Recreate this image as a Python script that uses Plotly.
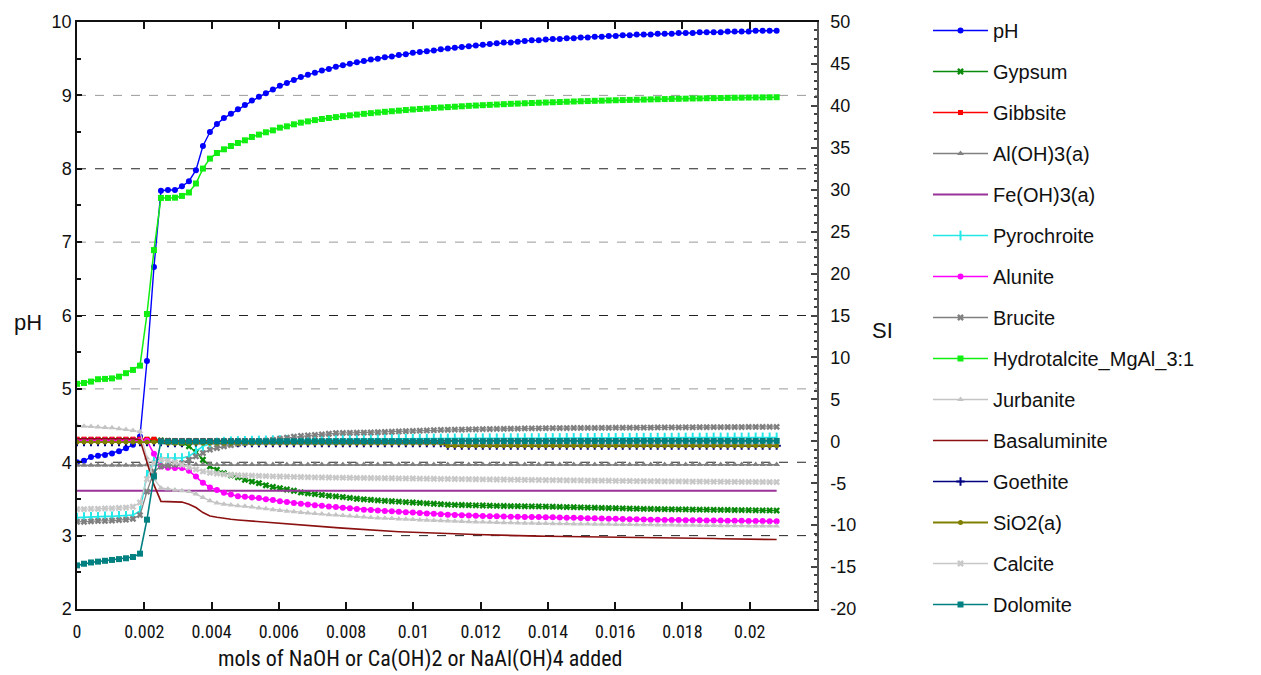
import plotly.graph_objects as go

# ---------------- data ----------------
STEP = 0.000208
N_POINTS = 101
X = [round(i * STEP, 6) for i in range(N_POINTS)]

X_TICKS = [0, 0.002, 0.004, 0.006, 0.008, 0.01, 0.012, 0.014, 0.016, 0.018, 0.02]
X_TICK_TEXT = ["0", "0.002", "0.004", "0.006", "0.008", "0.01", "0.012", "0.014", "0.016", "0.018", "0.02"]
PH_TICKS = [2, 3, 4, 5, 6, 7, 8, 9, 10]
SI_TICKS = [-20, -15, -10, -5, 0, 5, 10, 15, 20, 25, 30, 35, 40, 45, 50]
SI_TICK_TEXT = ["-20", "-15", "-10", "-5", "0", "5", "10", "15", "20", "25", "30", "35", "40", "45", "50"]
GRID_GRAY = [5, 7, 9]
GRID_BLACK = [3, 4, 6, 8]

PH = [
    4.00, 4.02, 4.07, 4.09, 4.10, 4.12, 4.15, 4.19, 4.24, 4.35,
    5.38, 6.66, 7.70, 7.71, 7.71, 7.76, 7.83, 7.98, 8.31, 8.50,
    8.61, 8.69, 8.75, 8.81, 8.87, 8.93, 8.98, 9.03, 9.08, 9.13,
    9.17, 9.21, 9.25, 9.28, 9.31, 9.34, 9.36, 9.39, 9.41, 9.43,
    9.45, 9.47, 9.49, 9.50, 9.52, 9.53, 9.55, 9.56, 9.58, 9.59,
    9.60, 9.61, 9.63, 9.64, 9.65, 9.66, 9.67, 9.68, 9.69, 9.70,
    9.71, 9.72, 9.72, 9.73, 9.74, 9.75, 9.75, 9.76, 9.77, 9.77,
    9.78, 9.78, 9.79, 9.79, 9.80, 9.80, 9.81, 9.81, 9.82, 9.82,
    9.83, 9.83, 9.83, 9.84, 9.84, 9.84, 9.85, 9.85, 9.85, 9.86,
    9.86, 9.86, 9.86, 9.87, 9.87, 9.87, 9.87, 9.88, 9.88, 9.88,
    9.88]

GYPSUM = [
    0.15, 0.15, 0.15, 0.15, 0.15, 0.15, 0.15, 0.15, 0.15, 0.15,
    0.15, 0.15, 0.12, 0.05, -0.10, -0.20, -0.60, -1.30, -2.20, -3.00,
    -3.40, -3.80, -4.05, -4.30, -4.60, -4.80, -5.00, -5.25, -5.45, -5.60,
    -5.75, -5.90, -6.10, -6.20, -6.30, -6.40, -6.50, -6.57, -6.65, -6.75,
    -6.85, -6.92, -6.98, -7.05, -7.10, -7.15, -7.20, -7.25, -7.30, -7.35,
    -7.40, -7.45, -7.50, -7.55, -7.58, -7.60, -7.62, -7.64, -7.66, -7.68,
    -7.70, -7.72, -7.73, -7.74, -7.75, -7.76, -7.77, -7.78, -7.80, -7.82,
    -7.84, -7.86, -7.88, -7.90, -7.92, -7.94, -7.96, -7.98, -8.00, -8.02,
    -8.04, -8.06, -8.07, -8.08, -8.10, -8.11, -8.12, -8.13, -8.14, -8.15,
    -8.16, -8.17, -8.18, -8.19, -8.20, -8.21, -8.22, -8.23, -8.24, -8.25,
    -8.26]

GIBBSITE = [
    0.25, 0.25, 0.25, 0.25, 0.25, 0.25, 0.25, 0.25, 0.25, 0.25,
    0.25, 0.25, 0.10, 0.10, 0.10, 0.10, 0.10, 0.10, 0.10, 0.10,
    0.10, 0.10, 0.10, 0.10, 0.10, 0.10, 0.10, 0.10, 0.10, 0.10,
    0.10, 0.10, 0.10, 0.10, 0.10, 0.10, 0.10, 0.10, 0.10, 0.10,
    0.10, 0.10, 0.10, 0.10, 0.10, 0.10, 0.10, 0.10, 0.10, 0.10,
    0.10, 0.10, 0.10, 0.10, 0.10, 0.10, 0.10, 0.10, 0.10, 0.10,
    0.10, 0.10, 0.10, 0.10, 0.10, 0.10, 0.10, 0.10, 0.10, 0.10,
    0.10, 0.10, 0.10, 0.10, 0.10, 0.10, 0.10, 0.10, 0.10, 0.10,
    0.10, 0.10, 0.10, 0.10, 0.10, 0.10, 0.10, 0.10, 0.10, 0.10,
    0.10, 0.10, 0.10, 0.10, 0.10, 0.10, 0.10, 0.10, 0.10, 0.10,
    0.10]

AL_OH3_A = [
    -2.85, -2.85, -2.85, -2.85, -2.85, -2.85, -2.85, -2.85, -2.85, -2.85,
    -2.80, -2.78, -2.78, -2.78, -2.78, -2.78, -2.78, -2.78, -2.78, -2.78,
    -2.78, -2.78, -2.78, -2.78, -2.78, -2.78, -2.78, -2.78, -2.78, -2.78,
    -2.78, -2.78, -2.78, -2.78, -2.78, -2.78, -2.78, -2.78, -2.78, -2.78,
    -2.78, -2.78, -2.78, -2.78, -2.78, -2.78, -2.78, -2.78, -2.78, -2.78,
    -2.78, -2.78, -2.78, -2.78, -2.78, -2.78, -2.78, -2.78, -2.78, -2.78,
    -2.78, -2.78, -2.78, -2.78, -2.78, -2.78, -2.78, -2.78, -2.78, -2.78,
    -2.78, -2.78, -2.78, -2.78, -2.78, -2.78, -2.78, -2.78, -2.78, -2.78,
    -2.78, -2.78, -2.78, -2.78, -2.78, -2.78, -2.78, -2.78, -2.78, -2.78,
    -2.78, -2.78, -2.78, -2.78, -2.78, -2.78, -2.78, -2.78, -2.78, -2.78,
    -2.78]

FE_OH3_A = [
    -5.90, -5.90, -5.90, -5.90, -5.90, -5.90, -5.90, -5.90, -5.90, -5.90,
    -5.90, -5.90, -5.90, -5.90, -5.90, -5.90, -5.90, -5.90, -5.90, -5.90,
    -5.90, -5.90, -5.90, -5.90, -5.90, -5.90, -5.90, -5.90, -5.90, -5.90,
    -5.90, -5.90, -5.90, -5.90, -5.90, -5.90, -5.90, -5.90, -5.90, -5.90,
    -5.90, -5.90, -5.90, -5.90, -5.90, -5.90, -5.90, -5.90, -5.90, -5.90,
    -5.90, -5.90, -5.90, -5.90, -5.90, -5.90, -5.90, -5.90, -5.90, -5.90,
    -5.90, -5.90, -5.90, -5.90, -5.90, -5.90, -5.90, -5.90, -5.90, -5.90,
    -5.90, -5.90, -5.90, -5.90, -5.90, -5.90, -5.90, -5.90, -5.90, -5.90,
    -5.90, -5.90, -5.90, -5.90, -5.90, -5.90, -5.90, -5.90, -5.90, -5.90,
    -5.90, -5.90, -5.90, -5.90, -5.90, -5.90, -5.90, -5.90, -5.90, -5.90,
    -5.90]

PYROCHROITE = [
    -9.10, -9.05, -9.00, -9.00, -8.95, -8.95, -8.90, -8.90, -8.80, -8.30,
    -4.00, -2.40, -2.00, -2.00, -2.00, -2.00, -1.80, -1.20, -0.60, -0.30,
    -0.15, -0.05, 0.00, 0.03, 0.05, 0.07, 0.09, 0.11, 0.13, 0.15,
    0.17, 0.18, 0.19, 0.20, 0.21, 0.22, 0.23, 0.24, 0.25, 0.26,
    0.27, 0.28, 0.28, 0.29, 0.29, 0.30, 0.30, 0.31, 0.31, 0.32,
    0.32, 0.33, 0.33, 0.34, 0.34, 0.35, 0.35, 0.35, 0.36, 0.36,
    0.36, 0.37, 0.37, 0.37, 0.38, 0.38, 0.38, 0.39, 0.39, 0.39,
    0.40, 0.40, 0.40, 0.40, 0.41, 0.41, 0.41, 0.41, 0.42, 0.42,
    0.42, 0.42, 0.43, 0.43, 0.43, 0.43, 0.44, 0.44, 0.44, 0.44,
    0.44, 0.45, 0.45, 0.45, 0.45, 0.45, 0.46, 0.46, 0.46, 0.46,
    0.46]

ALUNITE = [
    0.10, 0.10, 0.10, 0.10, 0.10, 0.10, 0.10, 0.10, 0.10, 0.10,
    0.05, -1.50, -3.00, -3.15, -3.20, -3.20, -3.50, -4.20, -4.95, -5.50,
    -5.80, -6.15, -6.35, -6.55, -6.62, -6.70, -6.76, -6.90, -7.00, -7.15,
    -7.25, -7.35, -7.45, -7.55, -7.62, -7.70, -7.78, -7.85, -7.92, -8.00,
    -8.08, -8.15, -8.20, -8.25, -8.30, -8.35, -8.40, -8.45, -8.50, -8.55,
    -8.60, -8.65, -8.70, -8.75, -8.78, -8.81, -8.84, -8.87, -8.90, -8.93,
    -8.95, -8.97, -8.99, -9.01, -9.02, -9.03, -9.04, -9.05, -9.07, -9.09,
    -9.11, -9.13, -9.15, -9.17, -9.19, -9.21, -9.23, -9.25, -9.27, -9.29,
    -9.31, -9.33, -9.35, -9.37, -9.38, -9.39, -9.40, -9.41, -9.42, -9.43,
    -9.44, -9.45, -9.46, -9.47, -9.48, -9.49, -9.50, -9.51, -9.52, -9.53,
    -9.55]

BRUCITE = [
    -9.60, -9.60, -9.55, -9.50, -9.50, -9.45, -9.40, -9.35, -9.25, -8.80,
    -6.00, -3.60, -3.00, -2.90, -2.80, -2.60, -2.20, -1.80, -1.40, -1.00,
    -0.80, -0.60, -0.45, -0.30, -0.20, -0.10, 0.00, 0.08, 0.18, 0.30,
    0.42, 0.54, 0.65, 0.71, 0.77, 0.83, 0.90, 0.98, 1.00, 1.01,
    1.02, 1.04, 1.05, 1.08, 1.11, 1.14, 1.17, 1.20, 1.23, 1.26,
    1.29, 1.32, 1.35, 1.37, 1.39, 1.40, 1.42, 1.43, 1.45, 1.46,
    1.48, 1.49, 1.50, 1.51, 1.53, 1.54, 1.55, 1.56, 1.57, 1.58,
    1.58, 1.59, 1.59, 1.60, 1.60, 1.61, 1.61, 1.62, 1.62, 1.63,
    1.63, 1.64, 1.64, 1.65, 1.65, 1.66, 1.66, 1.67, 1.67, 1.68,
    1.68, 1.69, 1.69, 1.70, 1.70, 1.70, 1.71, 1.71, 1.71, 1.72,
    1.72]

HYDROTALCITE = [
    6.85, 6.95, 7.12, 7.40, 7.44, 7.50, 7.71, 8.12, 8.51, 9.02,
    15.18, 22.80, 29.02, 29.02, 29.05, 29.26, 29.67, 30.74, 32.52, 33.71,
    34.38, 34.82, 35.21, 35.57, 35.89, 36.29, 36.57, 36.85, 37.08, 37.40,
    37.56, 37.80, 38.00, 38.15, 38.30, 38.43, 38.55, 38.66, 38.77, 38.87,
    38.96, 39.05, 39.13, 39.21, 39.29, 39.36, 39.43, 39.50, 39.57, 39.63,
    39.69, 39.75, 39.80, 39.85, 39.90, 39.95, 40.00, 40.04, 40.08, 40.12,
    40.16, 40.20, 40.24, 40.27, 40.31, 40.34, 40.37, 40.40, 40.43, 40.46,
    40.49, 40.52, 40.55, 40.57, 40.60, 40.62, 40.65, 40.67, 40.69, 40.71,
    40.73, 40.75, 40.77, 40.79, 40.81, 40.83, 40.84, 40.86, 40.88, 40.89,
    40.91, 40.92, 40.94, 40.95, 40.97, 40.98, 40.99, 41.00, 41.01, 41.02,
    41.03]

JURBANITE = [
    1.85, 1.80, 1.75, 1.70, 1.65, 1.60, 1.50, 1.40, 1.30, 1.17,
    -2.00, -4.50, -5.57, -5.70, -5.80, -5.90, -6.00, -6.30, -6.70, -7.10,
    -7.36, -7.50, -7.60, -7.70, -7.76, -7.85, -7.95, -8.05, -8.15, -8.25,
    -8.33, -8.40, -8.48, -8.55, -8.62, -8.68, -8.75, -8.80, -8.86, -8.92,
    -8.98, -9.04, -9.10, -9.14, -9.18, -9.22, -9.26, -9.30, -9.34, -9.38,
    -9.42, -9.45, -9.48, -9.51, -9.54, -9.57, -9.60, -9.62, -9.64, -9.66,
    -9.68, -9.70, -9.72, -9.74, -9.76, -9.78, -9.80, -9.81, -9.82, -9.83,
    -9.84, -9.85, -9.86, -9.87, -9.88, -9.89, -9.90, -9.91, -9.92, -9.93,
    -9.94, -9.95, -9.96, -9.97, -9.98, -9.99, -10.00, -10.01, -10.02, -10.03,
    -10.04, -10.05, -10.06, -10.07, -10.08, -10.08, -10.09, -10.09, -10.10, -10.10,
    -10.10]

BASALUMINITE = [
    0.30, 0.30, 0.30, 0.30, 0.30, 0.30, 0.30, 0.30, 0.30, 0.20,
    -2.40, -5.20, -7.17, -7.17, -7.20, -7.25, -7.50, -7.90, -8.50, -8.90,
    -9.05, -9.20, -9.30, -9.38, -9.45, -9.52, -9.60, -9.68, -9.74, -9.80,
    -9.86, -9.92, -10.00, -10.06, -10.12, -10.18, -10.24, -10.30, -10.36, -10.42,
    -10.48, -10.55, -10.62, -10.66, -10.70, -10.74, -10.78, -10.82, -10.86, -10.90,
    -10.93, -10.96, -10.98, -11.00, -11.03, -11.06, -11.09, -11.12, -11.15, -11.18,
    -11.20, -11.22, -11.24, -11.26, -11.28, -11.30, -11.31, -11.32, -11.33, -11.34,
    -11.35, -11.36, -11.37, -11.38, -11.38, -11.39, -11.39, -11.40, -11.40, -11.41,
    -11.41, -11.42, -11.42, -11.44, -11.46, -11.48, -11.50, -11.52, -11.54, -11.56,
    -11.58, -11.60, -11.62, -11.63, -11.64, -11.65, -11.66, -11.67, -11.68, -11.70,
    -11.72]

SIO2_A = [
    -0.10, -0.10, -0.10, -0.10, -0.10, -0.10, -0.10, -0.10, -0.10, -0.10,
    -0.10, -0.10, -0.10, -0.22, -0.22, -0.22, -0.22, -0.22, -0.22, -0.22,
    -0.22, -0.22, -0.22, -0.22, -0.22, -0.22, -0.22, -0.22, -0.22, -0.22,
    -0.22, -0.22, -0.22, -0.22, -0.22, -0.22, -0.22, -0.22, -0.22, -0.22,
    -0.22, -0.22, -0.22, -0.22, -0.22, -0.22, -0.22, -0.22, -0.22, -0.22,
    -0.22, -0.22, -0.22, -0.52, -0.52, -0.52, -0.52, -0.52, -0.52, -0.52,
    -0.52, -0.52, -0.52, -0.52, -0.52, -0.52, -0.52, -0.52, -0.52, -0.52,
    -0.52, -0.52, -0.52, -0.52, -0.52, -0.52, -0.52, -0.52, -0.52, -0.52,
    -0.52, -0.52, -0.52, -0.52, -0.52, -0.52, -0.52, -0.52, -0.52, -0.52,
    -0.52, -0.52, -0.52, -0.52, -0.52, -0.52, -0.52, -0.52, -0.52, -0.52,
    -0.52]

GOETHITE = [
    -0.10, -0.10, -0.10, -0.10, -0.10, -0.10, -0.10, -0.10, -0.10, -0.10,
    -0.10, -0.10, -0.10, -0.22, -0.22, -0.22, -0.22, -0.22, -0.22, -0.22,
    -0.22, -0.22, -0.22, -0.22, -0.22, -0.22, -0.22, -0.22, -0.22, -0.22,
    -0.22, -0.22, -0.22, -0.22, -0.22, -0.22, -0.22, -0.22, -0.22, -0.22,
    -0.22, -0.22, -0.22, -0.22, -0.22, -0.22, -0.22, -0.22, -0.22, -0.22,
    -0.22, -0.22, -0.22, -0.52, -0.52, -0.52, -0.52, -0.52, -0.52, -0.52,
    -0.52, -0.52, -0.52, -0.52, -0.52, -0.52, -0.52, -0.52, -0.52, -0.52,
    -0.52, -0.52, -0.52, -0.52, -0.52, -0.52, -0.52, -0.52, -0.52, -0.52,
    -0.52, -0.52, -0.52, -0.52, -0.52, -0.52, -0.52, -0.52, -0.52, -0.52,
    -0.52, -0.52, -0.52, -0.52, -0.52, -0.52, -0.52, -0.52, -0.52, -0.52,
    -0.52]

CALCITE = [
    -8.10, -8.10, -8.05, -8.05, -8.00, -8.00, -7.95, -7.90, -7.80, -7.30,
    -4.50, -2.60, -2.20, -2.30, -2.50, -2.80, -3.10, -3.35, -3.60, -3.75,
    -3.85, -3.95, -4.00, -4.05, -4.08, -4.10, -4.13, -4.16, -4.18, -4.20,
    -4.22, -4.24, -4.26, -4.28, -4.30, -4.31, -4.32, -4.33, -4.34, -4.35,
    -4.36, -4.37, -4.38, -4.39, -4.40, -4.41, -4.42, -4.43, -4.44, -4.45,
    -4.46, -4.47, -4.48, -4.49, -4.50, -4.51, -4.52, -4.53, -4.54, -4.55,
    -4.56, -4.56, -4.57, -4.58, -4.59, -4.60, -4.61, -4.62, -4.63, -4.64,
    -4.65, -4.66, -4.67, -4.68, -4.68, -4.69, -4.70, -4.71, -4.72, -4.73,
    -4.74, -4.74, -4.75, -4.76, -4.77, -4.78, -4.78, -4.79, -4.80, -4.80,
    -4.81, -4.82, -4.82, -4.83, -4.83, -4.84, -4.84, -4.85, -4.85, -4.86,
    -4.86]

DOLOMITE = [
    -14.80, -14.60, -14.45, -14.35, -14.25, -14.15, -14.05, -13.95, -13.80, -13.40,
    -9.35, -4.19, 0.00, 0.00, 0.00, 0.00, 0.00, 0.00, 0.00, 0.00,
    0.00, 0.00, 0.00, 0.00, 0.00, 0.00, 0.00, 0.00, 0.00, 0.00,
    0.00, 0.00, 0.00, 0.00, 0.00, 0.00, 0.00, 0.00, 0.00, 0.00,
    0.01, 0.01, 0.01, 0.01, 0.01, 0.01, 0.01, 0.01, 0.01, 0.01,
    0.02, 0.02, 0.02, 0.02, 0.02, 0.02, 0.02, 0.02, 0.02, 0.02,
    0.03, 0.03, 0.03, 0.03, 0.03, 0.03, 0.03, 0.03, 0.03, 0.03,
    0.04, 0.04, 0.04, 0.04, 0.04, 0.04, 0.04, 0.04, 0.04, 0.04,
    0.05, 0.05, 0.05, 0.05, 0.05, 0.05, 0.05, 0.05, 0.05, 0.05,
    0.05, 0.05, 0.05, 0.05, 0.05, 0.05, 0.05, 0.05, 0.05, 0.05,
    0.05]

# ---------------- styles ----------------
# (name, values, axis, color, symbol, size, mode, legend position, line width)
SERIES = [
    ("Goethite", GOETHITE, "y2", "#000080", "cross-thin", 6, "lines+markers", 12, 1.3),
    ("pH", PH, "y", "#0000ff", "circle", 6, "lines+markers", 1, 1.4),
    ("Gypsum", GYPSUM, "y2", "#0a8a0a", "x", 6, "lines+markers", 2, 1.4),
    ("Gibbsite", GIBBSITE, "y2", "#ff0000", "square", 5, "lines+markers", 3, 1.6),
    ("Al(OH)3(a)", AL_OH3_A, "y2", "#808080", "triangle-up", 6, "lines+markers", 4, 1.4),
    ("Fe(OH)3(a)", FE_OH3_A, "y2", "#993399", None, 0, "lines", 5, 2.2),
    ("Pyrochroite", PYROCHROITE, "y2", "#22e8e8", "line-ns", 7, "lines+markers", 6, 1.6),
    ("Alunite", ALUNITE, "y2", "#ff00ff", "circle", 6, "lines+markers", 7, 1.6),
    ("Brucite", BRUCITE, "y2", "#808080", "x", 6, "lines+markers", 8, 1.3),
    ("Hydrotalcite_MgAl_3:1", HYDROTALCITE, "y2", "#11ee11", "square", 6, "lines+markers", 9, 1.5),
    ("Jurbanite", JURBANITE, "y2", "#c4c4c4", "triangle-up", 6, "lines+markers", 10, 1.3),
    ("Basaluminite", BASALUMINITE, "y2", "#8b1010", None, 0, "lines", 11, 1.6),
    ("SiO2(a)", SIO2_A, "y2", "#808000", "circle", 5, "lines+markers", 13, 1.8),
    ("Calcite", CALCITE, "y2", "#c8c8c8", "x", 6, "lines+markers", 14, 1.3),
    ("Dolomite", DOLOMITE, "y2", "#008080", "square", 6, "lines+markers", 15, 1.6),
]

fig = go.Figure()
for name, vals, axis, color, symbol, size, mode, rank, lw in SERIES:
    marker = dict(color=color, size=size)
    if symbol:
        marker["symbol"] = symbol
        if symbol in ("line-ns", "cross-thin"):
            marker["line"] = dict(color=color, width=2)
    fig.add_trace(go.Scatter(
        x=X, y=vals, name=name, yaxis=axis, mode=mode,
        line=dict(color=color, width=lw),
        marker=marker if symbol else None,
        legendrank=rank, legendgroup=name,
    ))

L, R, T, B = 77, 444, 21, 66
shapes = []
for v in GRID_GRAY:
    shapes.append(dict(type="line", xref="paper", x0=0, x1=1, yref="y", y0=v, y1=v,
                       line=dict(color="#9a9a9a", width=1, dash="dash"), layer="below"))
for v in GRID_BLACK:
    shapes.append(dict(type="line", xref="paper", x0=0, x1=1, yref="y", y0=v, y1=v,
                       line=dict(color="#222222", width=1, dash="dash"), layer="below"))

SANS = "Liberation Sans, Arial, sans-serif"
NARROW_FAM = "Liberation Sans Narrow, Roboto Condensed, Liberation Sans, Arial"
TICKFONT = dict(family=SANS, size=18, color="#111")
NARROW = dict(family=NARROW_FAM, size=18, color="#111")

fig.update_layout(
    width=1261, height=675,
    margin=dict(l=L, r=R, t=T, b=B),
    paper_bgcolor="white", plot_bgcolor="white",
    shapes=shapes,
    xaxis=dict(
        range=[0, 0.022], tickvals=X_TICKS, ticktext=X_TICK_TEXT,
        ticks="inside", ticklen=7, tickwidth=1.5, tickcolor="#111",
        showline=True, linecolor="#111", linewidth=1.5, mirror="ticks",
        showgrid=False, zeroline=False, tickfont=NARROW, ticklabelstandoff=6,
    ),
    yaxis=dict(
        range=[2, 10], tickvals=PH_TICKS, ticks="inside", ticklen=5, tickwidth=1.5,
        tickcolor="#111", showline=True, linecolor="#111", linewidth=1.5,
        showgrid=False, zeroline=False, tickfont=TICKFONT,
        minor=dict(dtick=0.5, ticks="inside", ticklen=4, tickcolor="#111", showgrid=False),
    ),
    yaxis2=dict(
        range=[-20, 50], tickvals=SI_TICKS, ticktext=SI_TICK_TEXT,
        overlaying="y", side="right", anchor="x",
        ticks="inside", ticklen=6, tickwidth=1.5, tickcolor="#444",
        showline=True, linecolor="#555", linewidth=1.5,
        showgrid=False, zeroline=False, tickfont=TICKFONT, ticklabelstandoff=8,
        minor=dict(dtick=1, ticks="inside", ticklen=3, tickcolor="#444", showgrid=False),
    ),
    legend=dict(
        x=1.15, xanchor="left", y=1.017, yanchor="top",
        font=dict(family=SANS, size=20, color="#111"),
        tracegroupgap=12, bgcolor="rgba(0,0,0,0)", itemwidth=55, maxheight=670,
    ),
    annotations=[
        dict(text="pH", xref="paper", yref="paper", x=-0.088, y=0.488, showarrow=False,
             font=dict(family=SANS, size=22, color="#111")),
        dict(text="SI", xref="paper", yref="paper", x=1.106, y=0.475, showarrow=False,
             font=dict(family=SANS, size=22, color="#111")),
        dict(text="mols of NaOH or Ca(OH)2 or NaAl(OH)4 added", xref="paper", yref="paper",
             x=0.464, y=-0.086, yanchor="middle", showarrow=False,
             font=dict(family=NARROW_FAM, size=22, color="#111")),
    ],
)

fig.write_html("out.html")
